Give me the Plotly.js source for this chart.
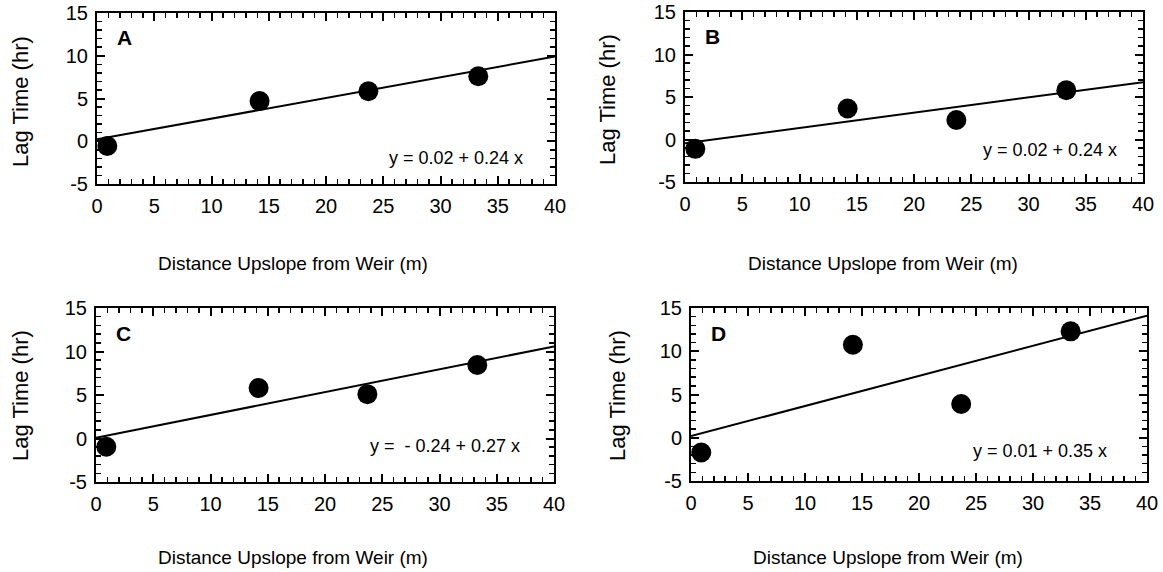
<!DOCTYPE html>
<html>
<head>
<meta charset="utf-8">
<script src="https://cdn.plot.ly/plotly-3.0.1.min.js"></script>
<style>html,body{margin:0;padding:0;background:#fff;}#chart{width:1163px;height:572px;}</style>
</head>
<body>
<div id="chart"></div>
<script>
// Data
const distance = [0.9, 14.2, 23.7, 33.3];
const lagA = [-0.55, 4.7, 5.85, 7.6];
const lagB = [-1.1, 3.65, 2.3, 5.8];
const lagC = [-0.95, 5.8, 5.1, 8.45];
const lagD = [-1.7, 10.75, 3.9, 12.3];
const fitX = [0, 40];
const fitA = [0.22, 9.9];
const fitB = [-0.43, 6.74];
const fitC = [0.08, 10.58];
const fitD = [0.19, 14.12];
const panelLabels = ['A', 'B', 'C', 'D'];
const equations = ['y = 0.02 + 0.24 x', 'y = 0.02 + 0.24 x', 'y =  - 0.24 + 0.27 x', 'y = 0.01 + 0.35 x'];
const xTitle = 'Distance Upslope from Weir (m)';
const yTitle = 'Lag Time (hr)';
const xTickVals = [0, 5, 10, 15, 20, 25, 30, 35, 40];
const xTickText = ['0', '5', '10', '15', '20', '25', '30', '35', '40'];
const yTickVals = [-5, 0, 5, 10, 15];
const yTickText = ['-5', '0', '5', '10', '15'];

const lags = [lagA, lagB, lagC, lagD];
const fits = [fitA, fitB, fitC, fitD];

const W = 1163, H = 572;
// panel frames in pixels [left, right, top, bottom]
const frames = [
  [97, 555, 13, 184],
  [685, 1143, 12, 182],
  [96, 554, 308, 482],
  [691, 1147, 308, 481]
];
const eqPos = [[37.4, -2.0], [37.9, -1.2], [37.2, -0.9], [36.7, -1.55]];
const xTitlePos = [[293, 263], [883, 263], [293, 557], [888, 557]];
const yTitlePos = [[20, 102], [608, 100], [20, 396], [617, 396]];

const font = 'Liberation Sans, Arial, Helvetica, sans-serif';
const traces = [];
const layout = {
  width: W, height: H,
  margin: {l: 0, r: 0, t: 0, b: 0},
  paper_bgcolor: '#fff', plot_bgcolor: '#fff',
  showlegend: false,
  font: {family: font, color: '#000'},
  annotations: []
};

for (let i = 0; i < 4; i++) {
  const n = i === 0 ? '' : String(i + 1);
  const xa = 'x' + n, ya = 'y' + n;
  traces.push({
    x: fitX, y: fits[i], xaxis: xa, yaxis: ya,
    mode: 'lines', line: {color: '#000', width: 2}, hoverinfo: 'skip'
  });
  traces.push({
    x: distance, y: lags[i], xaxis: xa, yaxis: ya,
    mode: 'markers', marker: {color: '#000', size: 20}
  });
  const f = frames[i];
  const common = {
    showgrid: false, zeroline: false,
    showline: true, linecolor: '#000', linewidth: 2, mirror: 'ticks',
    ticks: 'inside', ticklen: 8, tickwidth: 2, tickcolor: '#000',
    tickfont: {family: font, size: 20, color: '#000'},
    minor: {dtick: 1, ticks: 'inside', ticklen: 5, tickwidth: 1.5, tickcolor: '#000'},
    fixedrange: true
  };
  layout['xaxis' + n] = Object.assign({}, common, {
    domain: [f[0] / W, f[1] / W], range: [0, 40],
    anchor: ya, tickmode: 'array', tickvals: xTickVals, ticktext: xTickText,
    ticklabelstandoff: 3
  });
  layout['yaxis' + n] = Object.assign({}, common, {
    domain: [1 - f[3] / H, 1 - f[2] / H], range: [-5, 15],
    anchor: xa, tickmode: 'array', tickvals: yTickVals, ticktext: yTickText,
    ticklabelstandoff: 3
  });
  layout.annotations.push({
    xref: xa, yref: ya, x: 2.4, y: 12.1, text: '<b>' + panelLabels[i] + '</b>',
    showarrow: false, font: {family: font, size: 21, color: '#000'}
  });
  layout.annotations.push({
    xref: xa, yref: ya, x: eqPos[i][0], y: eqPos[i][1], text: equations[i],
    xanchor: 'right', showarrow: false, font: {family: font, size: 18, color: '#000'}
  });
  layout.annotations.push({
    xref: 'paper', yref: 'paper', x: xTitlePos[i][0] / W, y: 1 - xTitlePos[i][1] / H,
    text: xTitle, showarrow: false, xanchor: 'center', yanchor: 'middle',
    font: {family: font, size: 19, color: '#000'}
  });
  layout.annotations.push({
    xref: 'paper', yref: 'paper', x: yTitlePos[i][0] / W, y: 1 - yTitlePos[i][1] / H,
    text: yTitle, showarrow: false, textangle: -90, xanchor: 'center', yanchor: 'middle',
    font: {family: font, size: 22, color: '#000'}
  });
}

Plotly.newPlot('chart', traces, layout, {displayModeBar: false, staticPlot: true});
</script>
</body>
</html>
